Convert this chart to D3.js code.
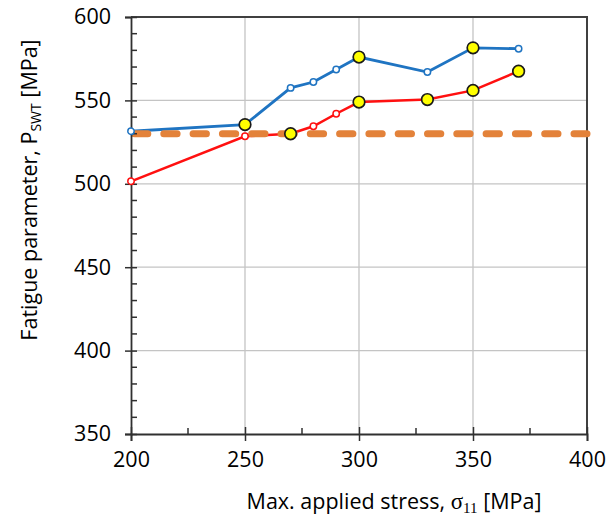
<!DOCTYPE html>
<html>
<head>
<meta charset="utf-8">
<script src="https://cdn.jsdelivr.net/npm/d3@7"></script>
<style>
  body { margin: 0; background: #fff; }
  svg { display: block; }
</style>
</head>
<body>
<svg id="chart" width="606" height="518"></svg>
<script>
// data
var stress = [200, 250, 270, 280, 290, 300, 330, 350, 370];
var pswtBlue = [531.5, 535.5, 557.5, 561, 568.5, 576, 567, 581.5, 581];
var pswtRed = [501.5, 528.5, 530, 534.5, 542, 549, 550.5, 556, 567.5];
var blueHighlighted = [false, true, false, false, false, true, false, true, false];
var redHighlighted = [false, false, true, false, false, true, true, true, true];
var pswtLimit = 530;
var xTicks = [200, 250, 300, 350, 400];
var yTicks = [350, 400, 450, 500, 550, 600];

var svg = d3.select("#chart"),
    margin = {top: 17, right: 19, bottom: 84, left: 131},
    width = +svg.attr("width") - margin.left - margin.right,
    height = +svg.attr("height") - margin.top - margin.bottom,
    g = svg.append("g").attr("transform", "translate(" + margin.left + "," + margin.top + ")");

var x = d3.scaleLinear().domain([200, 400]).range([0, width]);
var y = d3.scaleLinear().domain([350, 600]).range([height, 0]);

// grid
g.append("g").selectAll("line.vg")
  .data([250, 300, 350])
  .enter().append("line")
    .attr("x1", function(d) { return x(d); })
    .attr("x2", function(d) { return x(d); })
    .attr("y1", 0).attr("y2", height)
    .attr("stroke", "#c4c4c4").attr("stroke-width", 1.3);
g.append("g").selectAll("line.hg")
  .data([400, 450, 500, 550])
  .enter().append("line")
    .attr("x1", 0).attr("x2", width)
    .attr("y1", function(d) { return y(d); })
    .attr("y2", function(d) { return y(d); })
    .attr("stroke", "#c4c4c4").attr("stroke-width", 1.3);

// frame top / right
g.append("path")
  .attr("d", "M0,0H" + width + "V" + height)
  .attr("fill", "none").attr("stroke", "#404040").attr("stroke-width", 2);

var line = d3.line()
  .x(function(d) { return x(d[0]); })
  .y(function(d) { return y(d[1]); });

var series = [
  {values: d3.zip(stress, pswtBlue), hi: blueHighlighted, color: "#1f74c2", w: 2.8},
  {values: d3.zip(stress, pswtRed), hi: redHighlighted, color: "#ff1010", w: 2.5}
];

series.forEach(function(s) {
  g.append("path")
    .datum(s.values)
    .attr("fill", "none")
    .attr("stroke", s.color)
    .attr("stroke-width", s.w)
    .attr("d", line);
});

// limit line
g.append("line")
  .attr("x1", x(200) + 3.5).attr("x2", width)
  .attr("y1", y(pswtLimit)).attr("y2", y(pswtLimit))
  .attr("stroke", "#e3823a")
  .attr("stroke-width", 7)
  .attr("stroke-linecap", "round")
  .attr("stroke-dasharray", "13.3,16");

// axes
var xAxis = g.append("g")
  .attr("transform", "translate(0," + height + ")")
  .call(d3.axisBottom(x).tickValues(xTicks).tickSize(7).tickPadding(11).tickFormat(d3.format("d")));
xAxis.selectAll(".tick line").attr("y1", -7);
xAxis.append("g").selectAll("line")
  .data([225, 275, 325, 375])
  .enter().append("line")
    .attr("x1", function(d) { return x(d); })
    .attr("x2", function(d) { return x(d); })
    .attr("y1", 0).attr("y2", -6);

var yAxis = g.append("g")
  .call(d3.axisLeft(y).tickValues(yTicks).tickSize(6).tickPadding(14).tickFormat(d3.format("d")));
yAxis.selectAll(".tick line").attr("x1", 6);
yAxis.append("g").selectAll("line")
  .data(d3.range(360, 600, 10).filter(function(d) { return d % 50 != 0; }))
  .enter().append("line")
    .attr("x1", 0).attr("x2", 6)
    .attr("y1", function(d) { return y(d); })
    .attr("y2", function(d) { return y(d); });

[xAxis, yAxis].forEach(function(a) {
  a.attr("font-family", "'Open Sans', sans-serif").attr("font-size", 21.5);
  a.selectAll(".tick text").attr("fill", "#000");
  a.select(".domain").attr("stroke", "#303030").attr("stroke-width", 1.8);
  a.selectAll("line").attr("stroke", "#303030").attr("stroke-width", 1.5);
});

// markers
series.forEach(function(s) {
  g.append("g").selectAll("circle")
    .data(s.values.map(function(d, i) { return {p: d, hi: s.hi[i]}; }))
    .enter().append("circle")
      .attr("cx", function(d) { return x(d.p[0]); })
      .attr("cy", function(d) { return y(d.p[1]); })
      .attr("r", function(d) { return d.hi ? 5.8 : 3.2; })
      .attr("fill", function(d) { return d.hi ? "#ffff00" : "#fff"; })
      .attr("stroke", function(d) { return d.hi ? "#1a1a1a" : s.color; })
      .attr("stroke-width", function(d) { return d.hi ? 1.7 : 1.5; });
});

// axis titles
var xt = svg.append("text")
  .attr("x", 394).attr("y", 509)
  .attr("text-anchor", "middle")
  .style("font-family", "'Open Sans', sans-serif")
  .style("font-size", "21.5px");
xt.append("tspan").text("Max. applied stress, ");
xt.append("tspan").style("font-family", "'Liberation Serif', serif").style("font-size", "23px").text("σ");
xt.append("tspan").style("font-family", "'Liberation Serif', serif").style("font-size", "15px").attr("dy", 4).text("11");
xt.append("tspan").attr("dy", -4).text(" [MPa]");

var yt = svg.append("text")
  .attr("transform", "translate(37,190) rotate(-90)")
  .attr("text-anchor", "middle")
  .style("font-family", "'Open Sans', sans-serif")
  .style("font-size", "21.5px");
yt.append("tspan").text("Fatigue parameter, P");
yt.append("tspan").style("font-size", "14px").attr("dy", 4).text("SWT");
yt.append("tspan").attr("dy", -4).text(" [MPa]");
</script>
</body>
</html>
